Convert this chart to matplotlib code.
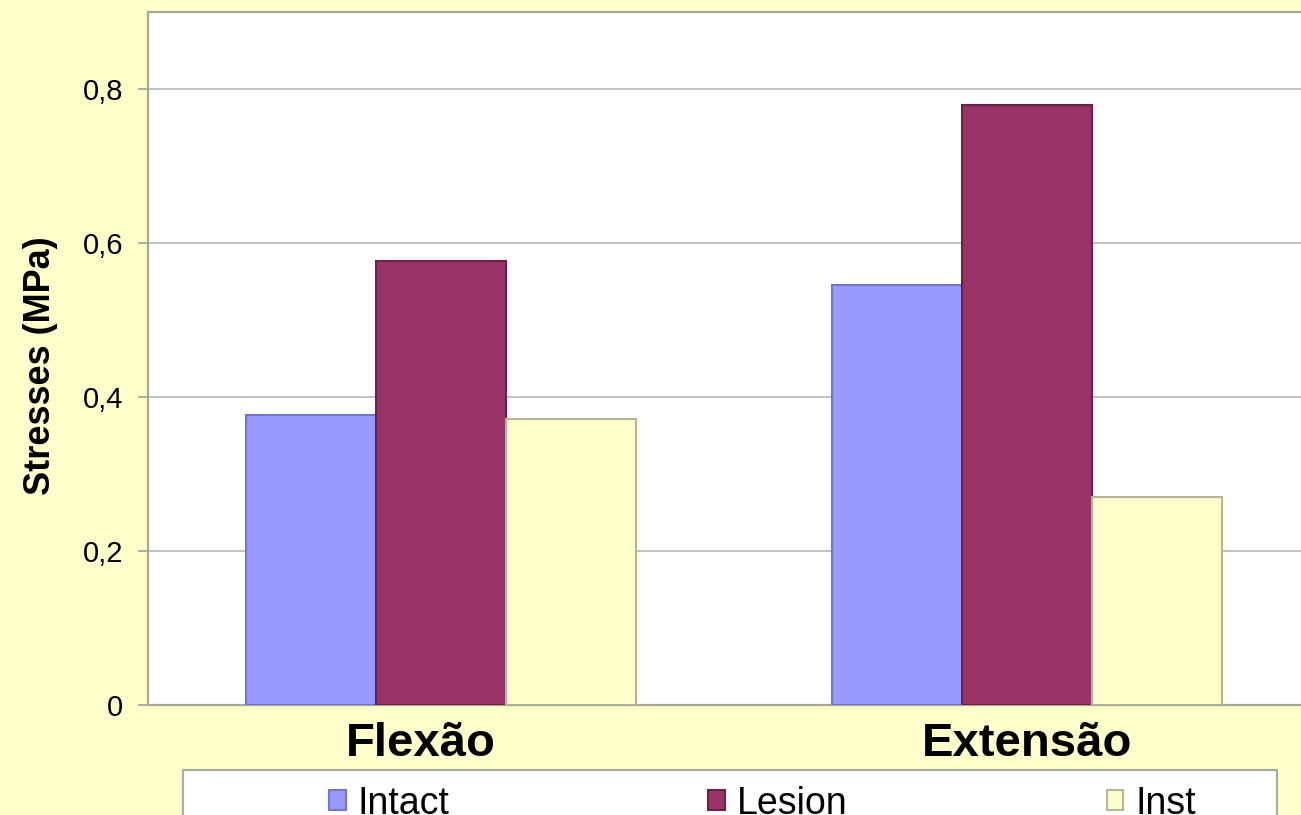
import numpy as np
import matplotlib
matplotlib.use('Agg')
import matplotlib.pyplot as plt
from matplotlib.patches import Rectangle
from matplotlib.ticker import FuncFormatter
from matplotlib.transforms import ScaledTranslation

plt.rcParams['font.family'] = ['Liberation Sans', 'DejaVu Sans']

# ── data ────────────────────────────────────────────
movements = ["Flexão", "Extensão"]
series    = ["Intact", "Lesion", "Inst"]
intact    = [0.377, 0.545]
lesion    = [0.576, 0.779]
inst      = [0.372, 0.270]
yticks    = [0, 0.2, 0.4, 0.6, 0.8]

colors = ["#9999FF", "#993366", "#FFFFCC"]
edges  = ["#7474C8", "#6A2347", "#B4B496"]
bg     = "#FFFFCC"

# ── figure ──────────────────────────────────────────
fig = plt.figure(figsize=(13.01, 8.15), dpi=100, facecolor=bg)
ax = fig.add_axes([148/1301, 110/815, 1172/1301, 693/815])
ax.set_facecolor("white")

x = np.arange(len(movements))
w = 0.222
bars = []
for i, (vals, c, ec) in enumerate(zip([intact, lesion, inst], colors, edges)):
    b = ax.bar(x + (i - 1) * w, vals, w, color=c, edgecolor=ec,
               linewidth=1.5, label=series[i], zorder=3)
    bars.append(b)

ax.set_xlim(-0.5, 1.5)
ax.set_ylim(0, 0.9)
ax.set_yticks(yticks)
ax.yaxis.set_major_formatter(FuncFormatter(
    lambda v, p: "0" if v == 0 else f"{v:.1f}".replace(".", ",")))
ax.grid(axis="y", color="#BDBDBD", linewidth=1.3, zorder=0)

ax.set_xticks(x)
ax.set_xticklabels(movements, fontsize=34, fontweight="bold")
ax.tick_params(axis="x", length=0, pad=12)
ax.tick_params(axis="y", labelsize=21, length=7, width=1.2,
               color="#A0A090", pad=11)

# first category label sits a bit left of its group
lbl = ax.get_xticklabels()[0]
lbl.set_transform(lbl.get_transform() + ScaledTranslation(-0.2, 0, fig.dpi_scale_trans))

for s in ax.spines.values():
    s.set_color("#A8A898")
    s.set_linewidth(1.6)

ax.set_ylabel("Stresses (MPa)", fontsize=26, fontweight="bold")
ax.yaxis.set_label_coords(-0.077, 0.49)

# ── legend ──────────────────────────────────────────
fig.patches.append(Rectangle((183/1301, -0.06), (1277-183)/1301, 0.06 + 45/815,
                             transform=fig.transFigure, facecolor="white",
                             edgecolor="#ABABA0", linewidth=1.6, zorder=0))
leg = fig.legend(handles=bars, labels=series, loc="upper left",
                 bbox_to_anchor=(310/1301, 1 - 767/815), ncol=3,
                 frameon=False, fontsize=27, borderpad=0,
                 handlelength=0.45, handleheight=0.45, handletextpad=0.32,
                 columnspacing=6.9)

plt.savefig("out.png", dpi=100, facecolor=bg)
plt.close()
